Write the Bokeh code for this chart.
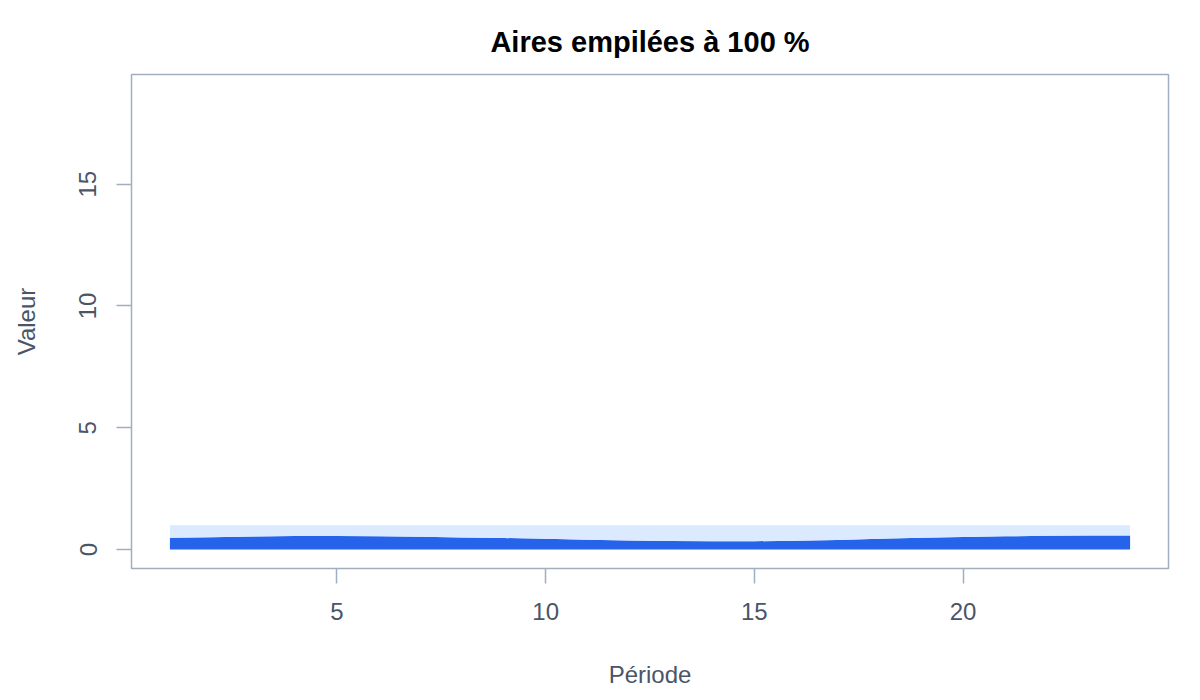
from bokeh.plotting import figure
from bokeh.models import Range1d, FixedTicker, ColumnDataSource
from bokeh.embed import file_html
from bokeh.resources import INLINE

# Data (shares, stacked to 100 %)
periode = list(range(1, 25))
part_a = [0.48, 0.50, 0.53, 0.55, 0.55, 0.54, 0.52, 0.49, 0.47, 0.44, 0.40, 0.37,
          0.35, 0.34, 0.34, 0.36, 0.39, 0.44, 0.48, 0.51, 0.54, 0.56, 0.57, 0.57]
part_b = [0.52, 0.50, 0.47, 0.45, 0.45, 0.46, 0.48, 0.51, 0.53, 0.56, 0.60, 0.63,
          0.65, 0.66, 0.66, 0.64, 0.61, 0.56, 0.52, 0.49, 0.46, 0.44, 0.43, 0.43]
x_ticks = [5, 10, 15, 20]
y_ticks = [0, 5, 10, 15]

title_text = "Aires empilées à 100 %"
x_label = "Période"
y_label = "Valeur"

FONT = "Liberation Sans"
AXIS_COL = "#a0aec0"
TEXT_COL = "#4a5568"

src = ColumnDataSource(dict(x=periode, a=part_a, b=part_b))

p = figure(width=1184, height=692, output_backend="svg", toolbar_location=None,
           x_range=Range1d(0.08, 24.92), y_range=Range1d(-0.78, 19.5),
           min_border_left=131, min_border_right=16, min_border_top=74,
           min_border_bottom=124)

p.varea_stack(stackers=["a", "b"], x="x", color=["#2563eb", "#dbeafe"], source=src)

p.grid.visible = False
p.outline_line_color = AXIS_COL
p.outline_line_width = 1.5

p.title.text = title_text
p.title.align = "center"
p.title.text_font = FONT
p.title.text_font_size = "29px"
p.title.text_font_style = "bold"
p.title.text_color = "black"
p.title.standoff = 33

for ax in (p.xaxis[0], p.yaxis[0]):
    ax.axis_line_color = None
    ax.major_tick_line_color = AXIS_COL
    ax.major_tick_line_width = 1.5
    ax.major_tick_out = 15
    ax.major_tick_in = 0
    ax.minor_tick_line_color = None
    ax.major_label_text_font = FONT
    ax.major_label_text_font_size = "24px"
    ax.major_label_text_color = TEXT_COL
    ax.axis_label_text_font = FONT
    ax.axis_label_text_font_size = "24px"
    ax.axis_label_text_font_style = "normal"
    ax.axis_label_text_color = TEXT_COL

p.xaxis.ticker = FixedTicker(ticks=x_ticks)
p.yaxis.ticker = FixedTicker(ticks=y_ticks)
p.xaxis.axis_label = x_label
p.yaxis.axis_label = y_label
p.yaxis.major_label_orientation = "vertical"
p.xaxis.major_label_standoff = 19
p.yaxis.major_label_standoff = 20
p.xaxis.axis_label_standoff = 38
p.yaxis.axis_label_standoff = 37

open("out.html", "w").write(file_html(p, INLINE))
